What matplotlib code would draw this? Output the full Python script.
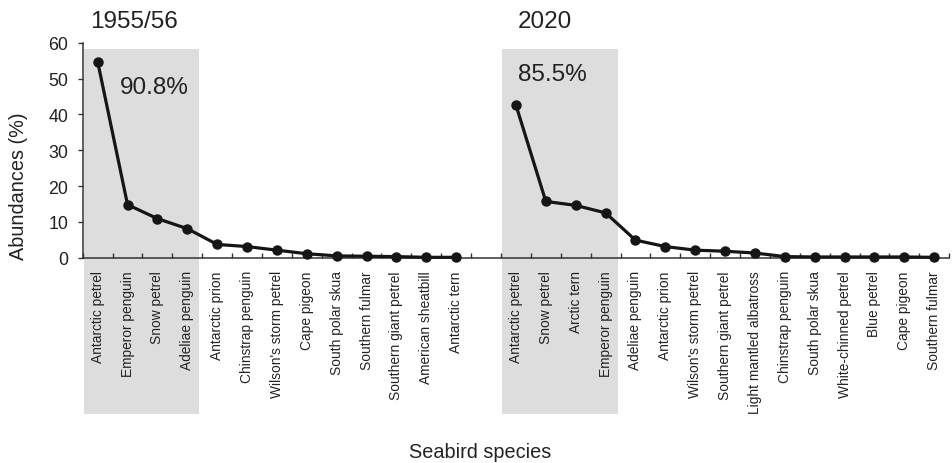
import matplotlib.pyplot as plt
from matplotlib.patches import Rectangle

plt.rcParams['font.family'] = ['Liberation Sans', 'DejaVu Sans']

# 1955/56 survey, ranked species abundances (%)
species_1955 = ['Antarctic petrel', 'Emperor penguin', 'Snow petrel', 'Adeliae penguin',
                'Antarctic prion', 'Chinstrap penguin', "Wilson's storm petrel", 'Cape pigeon',
                'South polar skua', 'Southern fulmar', 'Southern giant petrel',
                'American sheatbill', 'Antarctic tern']
abund_1955 = [54.7, 14.8, 10.9, 8.1, 3.7, 3.1, 2.1, 1.1, 0.5, 0.4, 0.3, 0.1, 0.1]

# 2020 survey
species_2020 = ['Antarctic petrel', 'Snow petrel', 'Arctic tern', 'Emperor penguin',
                'Adeliae penguin', 'Antarctic prion', "Wilson's storm petrel",
                'Southern giant petrel', 'Light mantled albatross', 'Chinstrap penguin',
                'South polar skua', 'White-chinned petrel', 'Blue petrel', 'Cape pigeon',
                'Southern fulmar']
abund_2020 = [42.6, 15.7, 14.6, 12.5, 4.9, 3.1, 2.1, 1.8, 1.3, 0.3, 0.2, 0.2, 0.2, 0.2, 0.1]

titles = ['1955/56', '2020']
dominant_share = ['90.8%', '85.5%']
n_dominant = 4


def main():
    fig = plt.figure(figsize=(9.52, 4.64), dpi=100)
    ax = fig.add_axes([0.0869, 0.4425, 0.9101, 0.4633])

    # one empty slot separates the two surveys
    x_1955 = list(range(len(species_1955)))
    start_2020 = len(species_1955) + 1
    x_2020 = list(range(start_2020, start_2020 + len(species_2020)))
    n_slots = start_2020 + len(species_2020)

    # grey boxes behind the dominant species, running down through the labels
    for x0 in [x_1955[0], x_2020[0]]:
        ax.add_patch(Rectangle((x0 - 0.47, -43.6), n_dominant - 0.13, 43.6 + 58.3,
                               facecolor='#dddddd', edgecolor='none', zorder=0,
                               clip_on=False))

    for xs, ys in [(x_1955, abund_1955), (x_2020, abund_2020)]:
        ax.plot(xs, ys, color='#151515', lw=2.3, marker='o', ms=6.5, zorder=3,
                clip_on=False)

    ax.set_xlim(-0.5, n_slots - 0.5)
    ax.set_ylim(0, 60)
    ax.set_yticks(range(0, 61, 10))

    ax.set_xticks(x_1955 + x_2020)
    ax.set_xticklabels(species_1955 + species_2020, rotation=90, fontsize=9.9,
                       color='#222222')
    ax.set_xticks([i - 0.5 for i in range(n_slots + 1)], minor=True)
    ax.tick_params(axis='x', which='major', length=0, pad=9)
    ax.tick_params(axis='x', which='minor', direction='in', length=3.5, width=1,
                   color='#333333')
    ax.tick_params(axis='y', direction='out', length=3.5, width=1, pad=7,
                   labelsize=12.8, color='#333333', labelcolor='#222222')

    for side in ['top', 'right']:
        ax.spines[side].set_visible(False)
    for side in ['left', 'bottom']:
        ax.spines[side].set_color('#333333')
        ax.spines[side].set_linewidth(1.1)

    # survey titles and share of the four dominant species
    for x0, t in zip([-0.26, 14.07], titles):
        ax.text(x0, 66.1, t, fontsize=17.5, ha='left', va='center', color='#222222',
                clip_on=False)
    ax.text(0.75, 47.6, dominant_share[0], fontsize=17.5, ha='left', va='center',
            color='#222222')
    ax.text(14.07, 51.3, dominant_share[1], fontsize=17.5, ha='left', va='center',
            color='#222222')

    fig.text(0.019, 0.598, 'Abundances (%)', rotation=90, fontsize=14.3,
             ha='center', va='center', color='#222222')
    fig.text(0.504, 0.024, 'Seabird species', fontsize=14.3, ha='center',
             va='center', color='#222222')

    fig.savefig('out.png', dpi=100)


if __name__ == "__main__":
    main()
